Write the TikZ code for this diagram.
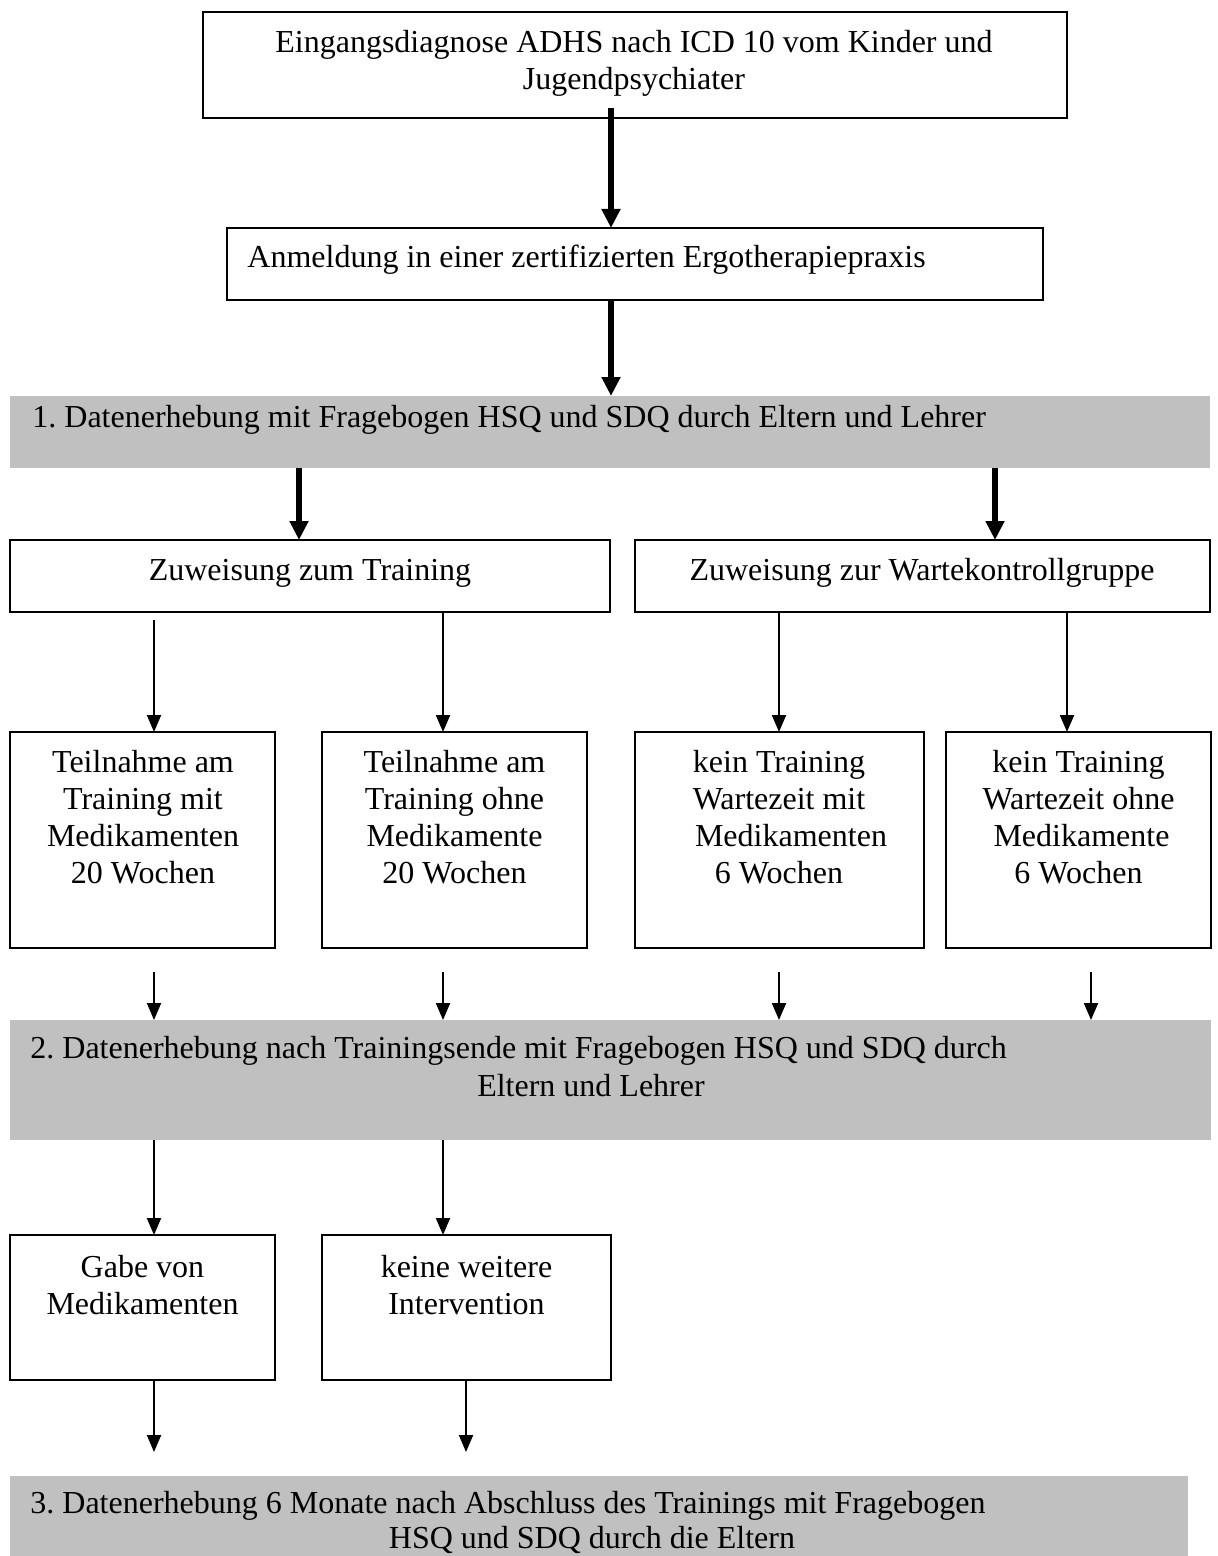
\documentclass[tikz,border=0pt]{standalone}
\usepackage{fontspec}
\setmainfont{Liberation Serif}
\usetikzlibrary{arrows.meta}
\definecolor{bandgray}{HTML}{C0C0C0}
\newcommand\fs{\fontsize{16pt}{18.5pt}\selectfont}
\frenchspacing
\begin{document}
\begin{tikzpicture}[x=0.5pt,y=-0.5pt,
  box/.style={draw,line width=1.1pt,rectangle,anchor=north west,inner sep=0pt,outer sep=0pt},
  band/.style={fill=bandgray,rectangle,anchor=north west,inner sep=0pt,outer sep=0pt},
  txt/.style={inner sep=0pt,align=center,font=\fs,anchor=north},
  ltxt/.style={inner sep=0pt,font=\fs,anchor=base west},
  ctxt/.style={inner sep=0pt,font=\fs,anchor=base},
  thinarrow/.style={line width=1pt,-{Triangle[length=8.5pt,width=7pt]}},
  thickarrow/.style={line width=2.8pt,-{Triangle[length=9.5pt,width=9pt]}},
]
\useasboundingbox[fill=white] (0,0) rectangle (1217,1556);

% boxes and shaded bands
\node[box,minimum width=432pt,minimum height=53pt] (b1) at (203,12) {};
\node[box,minimum width=408pt,minimum height=36pt] (b2) at (227,228) {};
\node[band,minimum width=600pt,minimum height=36pt] (g1) at (10,396) {};
\node[box,minimum width=300pt,minimum height=36pt] (z1) at (10,540) {};
\node[box,minimum width=287.5pt,minimum height=36pt] (z2) at (635,540) {};
\node[box,minimum width=132.5pt,minimum height=108pt] (tA) at (10,732) {};
\node[box,minimum width=132.5pt,minimum height=108pt] (tB) at (322,732) {};
\node[box,minimum width=144.5pt,minimum height=108pt] (tC) at (635,732) {};
\node[box,minimum width=132.5pt,minimum height=108pt] (tD) at (946,732) {};
\node[band,minimum width=600.5pt,minimum height=60pt] (g2) at (10,1020) {};
\node[box,minimum width=132.5pt,minimum height=72.5pt] (mA) at (10,1235) {};
\node[box,minimum width=144.5pt,minimum height=72.5pt] (mB) at (322,1235) {};
\node[band,minimum width=589pt,minimum height=40pt] (g3) at (10,1476) {};

% texts
\node[txt] (b1t) at (634,26.5) {\strut Eingangsdiagnose ADHS nach ICD 10 vom Kinder und\\Jugendpsychiater};
\node[ltxt] (b2t) at (247,268) {Anmeldung in einer zertifizierten Ergotherapiepraxis};
\node[ltxt] (g1t) at (32,427) {1. Datenerhebung mit Fragebogen HSQ und SDQ durch Eltern und Lehrer};
\node[ctxt] (z1t) at (310,580) {Zuweisung zum Training};
\node[ctxt] (z2t) at (922,580) {Zuweisung zur Wartekontrollgruppe};
\node[txt] (tAt) at (143,746.5) {\strut Teilnahme am\\Training mit\\Medikamenten\\20 Wochen};
\node[txt] (tBt) at (454.5,746.5) {\strut Teilnahme am\\Training ohne\\Medikamente\\20 Wochen};
\node[txt] (tCt) at (779,746.5) {\strut kein Training\\Wartezeit mit\\\hspace*{12pt}Medikamenten\\6 Wochen};
\node[txt] (tDt) at (1078.5,746.5) {\strut kein Training\\Wartezeit ohne\\\hspace*{3pt}Medikamente\\6 Wochen};
\node[ltxt] (g2t) at (30,1058) {2. Datenerhebung nach Trainingsende mit Fragebogen HSQ und SDQ durch};
\node[ctxt] (g2u) at (591,1096) {Eltern und Lehrer};
\node[txt] (mAt) at (142.5,1251.5) {\strut Gabe von\\Medikamenten};
\node[txt] (mBt) at (466.5,1251.5) {\strut keine weitere\\Intervention};
\node[ltxt] (g3t) at (30,1513) {3. Datenerhebung 6 Monate nach Abschluss des Trainings mit Fragebogen};
\node[ctxt] (g3u) at (592,1548) {HSQ und SDQ durch die Eltern};

% horizontal positions of the connectors
\coordinate (x611) at (611,0);
\coordinate (x299) at (299,0);
\coordinate (x995) at (995,0);
\coordinate (x154) at (154,0);
\coordinate (x443) at (443,0);
\coordinate (x779) at (779,0);
\coordinate (x1067) at (1067,0);
\coordinate (x1091) at (1091,0);
\coordinate (x466) at (466,0);

% thick connectors
\draw[thickarrow] (b1.south -| x611) ++(0,-10) -- (b2.north -| x611);
\draw[thickarrow] (b2.south -| x611) -- (g1.north -| x611);
\draw[thickarrow] (g1.south -| x299) -- (z1.north -| x299);
\draw[thickarrow] (g1.south -| x995) -- (z2.north -| x995);

% thin connectors
\draw[thinarrow] (z1.south -| x154) ++(0,8) -- (tA.north -| x154);
\draw[thinarrow] (z1.south -| x443) -- (tB.north -| x443);
\draw[thinarrow] (z2.south -| x779) -- (tC.north -| x779);
\draw[thinarrow] (z2.south -| x1067) -- (tD.north -| x1067);

\draw[thinarrow] (tA.south -| x154) ++(0,24) -- (g2.north -| x154);
\draw[thinarrow] (tB.south -| x443) ++(0,24) -- (g2.north -| x443);
\draw[thinarrow] (tC.south -| x779) ++(0,24) -- (g2.north -| x779);
\draw[thinarrow] (tD.south -| x1091) ++(0,24) -- (g2.north -| x1091);

\draw[thinarrow] (g2.south -| x154) -- (mA.north -| x154);
\draw[thinarrow] (g2.south -| x443) -- (mB.north -| x443);

\draw[thinarrow] (mA.south -| x154) -- ([yshift=12pt]g3.north -| x154);
\draw[thinarrow] (mB.south -| x466) -- ([yshift=12pt]g3.north -| x466);
\end{tikzpicture}
\end{document}
